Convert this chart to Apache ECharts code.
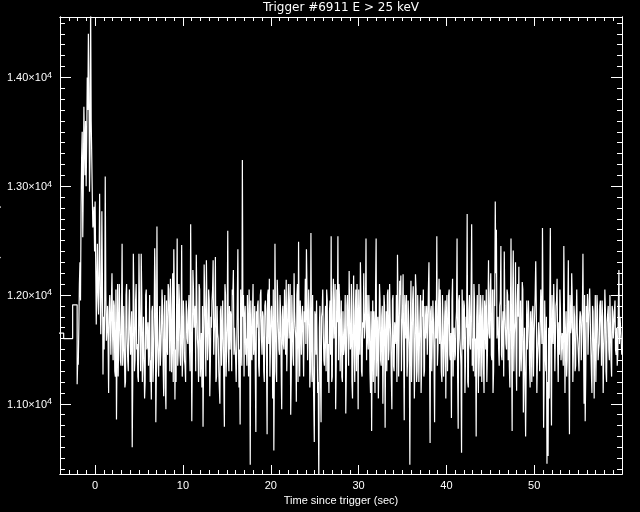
<!DOCTYPE html>
<html><head><meta charset="utf-8">
<script src="https://cdn.jsdelivr.net/npm/echarts@6/dist/echarts.min.js"></script>
<style>html,body{margin:0;padding:0;background:#000}#c{width:640px;height:512px}</style>
</head><body><div id="c"></div>
<script>
const chartTitle = 'Trigger #6911 E > 25 keV';
const xTitle = 'Time since trigger (sec)';
const yTitle = 'Rate (counts s\u207B\u00B9)';

// pre-trigger coarse bins (1.024 s)
const coarseStart = [-4.608, -3.584, -2.560];
const coarseRate = [11650, 11600, 11910];

// fine bins (0.064 s): even bins in rateEven, odd bins in rateOdd
const fineStart = -2.048;
const fineWidth = 0.064;
const rateEven = [
11180,11360,12100,11950,13270,12530,13730,13100,
13000,14000,14400,12950,14700,13270,12620,12810,
12860,11730,12470,11820,12930,11640,12770,11270,
11500,13090,11580,11900,11100,12000,11450,12200,
11400,11900,11250,10855,12100,11600,11800,11350,
12470,11500,11900,11200,12100,11400,11800,11650,
11700,10600,12380,11300,11950,11500,11250,12380,
11600,12380,11200,11800,11050,12000,11500,11750,
11500,11200,11040,11900,11400,12430,10830,12630,
11400,11650,11350,11700,11900,11070,12000,10950,
11550,12100,11800,12150,11290,12200,12420,11040,
11200,12520,11500,11950,11350,12460,11450,11800,
11350,11950,11600,11850,11500,12650,10840,12230,
11700,11900,12370,11600,11200,12050,11400,11150,
10790,12280,11700,12320,11400,12050,11070,11800,
11950,12320,11650,12350,11250,11650,11300,11000,
11900,11350,11600,10790,12000,11500,12590,11300,
11500,11800,12050,12230,11700,11400,11550,12420,
11150,10810,11600,13240,12000,11800,11450,11350,
11700,12050,10440,11500,11850,11450,11900,10740,
11700,11950,11250,12000,11600,11850,11300,11900,
11850,10720,12050,12150,11500,11900,11050,10570,
12470,11300,12140,11700,11450,11850,10950,11900,
11500,11750,12140,11300,12100,11600,10900,12000,
11450,12200,11700,11020,12100,12490,11250,11700,
11800,11600,11850,12150,12420,11400,12050,11150,
12570,11200,11350,10650,11800,11950,11100,10250,
11900,10830,11850,11650,11350,11900,12050,11200,
11100,11950,12540,11250,12150,11800,10950,12050,
12540,12100,11300,11950,11200,11450,11700,10910,
11900,12000,12220,11500,12100,11050,12180,11200,
12050,12100,10950,11600,12300,11300,11750,12200,
11700,12520,12000,11500,11800,11100,10750,11950,
11850,11100,12520,11650,11050,12100,11400,11800,
11000,12000,10780,11850,12000,11400,12100,11600,
10950,12000,11300,11650,12000,12370,11250,12130,
12180,11650,12190,10850,11850,12000,11400,11700,
10440,12130,11500,12080,11050,12190,11200,12000,
11200,11800,11100,11950,12050,11300,11600,11900,
11700,12300,10640,11900,11300,11750,10830,11950,
12540,11500,12150,12050,11300,12000,11250,11800,
11050,12000,11600,12050,11400,10870,12150,11650,
11400,11750,12520,10770,12000,11500,10550,12050,
11950,11100,11800,12745,11150,12000,11500,12650,
11600,12100,11250,10700,12000,11100,11600,12000,
11200,12000,11100,11850,12050,11450,12320,11600,
12200,11400,11100,12050,12860,12600,11700,11500,
11900,12450,11400,11850,12400,11700,11500,12000,
11950,11150,12520,10750,12410,11650,12300,11120,
12100,12260,11500,11300,12120,10920,11700,10700,
11950,11500,11750,11150,11700,11850,11250,11600,
12310,11100,11400,11550,11750,12050,12615,10780,
11950,11300,10450,10520,11050,12615,10800,11650,
12100,11300,11900,12150,11200,11450,11850,11550,
11500,12450,11100,11850,11400,12320,10720,11650,
12200,11200,11900,11300,11800,11650,11550,11750,
11800,11650,12380,11000,10840,11900,12010,11450,
12060,11500,11100,11850,11050,12000,11600,11850,
11500,11900,11700,11950,11100,11650,11850,11200,
11750,11500,12000,11400,11900,11600,11850,11500,
11700,11450,12230,11800,11600
];
const rateOdd = [
11400,11700,12300,12800,13500,13000,13400,13600,
13400,13700,13900,13300,13600,12900,12700,12400,
12300,12100,12000,12250,12050,11950,12150,11800,
11900,12050,11700,11600,11850,11750,11950,11650,
11950,11300,12050,11500,11250,12100,11400,11850,
11350,11900,11150,12000,11600,11300,12050,11450,
11850,11250,11950,11400,12100,11550,11200,11900,
11300,12000,11450,11800,11200,12050,11550,11350,
12000,11400,11850,11200,11750,12100,11300,11600,
11250,11900,11500,12050,11350,11800,11150,11950,
11450,12050,11300,11850,11600,11200,12000,11500,
11900,11350,12100,11450,11700,11250,11950,11400,
11200,11850,11550,12000,11300,11750,11450,12050,
11800,11300,11950,11500,12100,11250,11650,11900,
11400,12000,11250,11850,11550,11950,11350,11700,
12050,11450,11800,11200,11900,11600,11300,11850,
11350,11950,11600,12100,11250,11750,11500,11900,
11850,11300,12000,11450,11700,11200,11950,11550,
11500,12050,11350,11800,11250,11900,11600,12000,
11250,11750,11950,11400,12100,11550,11300,11850,
11900,11350,11700,12050,11450,11800,11200,11950,
11400,12000,11550,11250,11850,11650,12050,11300,
11750,11200,11950,11500,12000,11350,11800,11550,
12050,11450,11300,11900,11600,12100,11250,11750,
11350,11850,11600,12000,11200,11700,11950,11450,
11900,11250,11750,11550,12050,11400,11850,11300,
11600,12000,11350,11850,11450,11950,11200,11700,
11250,11800,12050,11400,11700,11300,11950,11550,
11850,11450,11200,11950,11600,12100,11350,11750,
11400,11950,11650,11250,11850,11500,12000,11300,
12000,11350,11800,11550,11200,11900,11450,11850,
11300,11750,12050,11450,11950,11250,11700,11600,
11850,11400,11600,12000,11300,11850,11550,11200,
11700,12050,11250,11800,11500,11950,11350,11900,
11450,11900,11600,11300,12050,11500,11800,11250,
11950,11350,11750,11550,11200,11900,11650,12000,
11300,11850,11450,12000,11600,11250,11950,11500,
11800,11200,11950,11650,11400,12050,11300,11750,
11550,12000,11350,11800,11250,11900,11600,11450,
12050,11500,11850,11300,11950,11400,11750,11600,
11350,11900,11550,12050,11200,11800,11450,11950,
11800,11300,12000,11450,11650,11950,11250,11700,
11450,11850,11250,11950,11600,11350,12050,11500,
11900,11400,11700,11200,11850,11550,12000,11350,
11300,11950,11600,11800,11450,12100,11250,11850,
11750,11350,11950,11500,11200,11850,11650,12000,
11450,12050,11300,11900,12200,11600,11800,11350,
11950,11450,11750,11250,11900,11550,12050,11400,
11350,11850,11600,12000,11300,11750,11450,11900,
11800,11250,11950,11500,12050,11400,11700,11300,
11500,11950,11350,11850,11200,11900,11600,12000,
11900,11400,11750,11300,12050,11550,11850,11250,
11450,11800,11200,11700,11950,11350,12000,11550,
11850,11300,11950,11500,11750,12050,11400,11650,
11350,11900,11600,11250,11850,11450,12000,11700,
11950,11450,11800,11350,12050,11550,11300,11850,
11400,11850,11550,12000,11250,11750,11450,11950,
11800,11300,11900,11500,11650,11200,12000,11400,
11550,11950,11350,11800,11450,12050,11300,11750,
11900,11400,11700,11250,11850,11600,11950,11450,
11350,11900,11550,11800,11450
];

const xRange = [-4, 60];
const yRange = [10355, 14555];
const xMajorTicks = [0, 10, 20, 30, 40, 50];
const xTickLabels = ['0', '10', '20', '30', '40', '50'];
const yMajorTicks = [11000, 12000, 13000, 14000];
const yTickLabels = ['1.10', '1.20', '1.30', '1.40'];
const yTickExp = '4';
const xMinorTicks = [];
for (let t = -3; t <= 59; t++) xMinorTicks.push(t);
const yMinorTicks = [];
for (let v = 10400; v <= 14500; v += 100) yMinorTicks.push(v);

const pts = [];
coarseStart.forEach((t, i) => pts.push([t, coarseRate[i]]));
let nBins = 0;
rateEven.forEach((v, i) => {
  pts.push([+(fineStart + (2 * i) * fineWidth).toFixed(3), v]);
  pts.push([+(fineStart + (2 * i + 1) * fineWidth).toFixed(3), rateOdd[i]]);
  nBins = 2 * i + 2;
});
pts.push([+(fineStart + nBins * fineWidth).toFixed(3), rateOdd[rateOdd.length - 1]]);

const FONT = 'Liberation Sans';
const WHITE = '#ffffff';

function xAxisDef(position, ticks, len, labels) {
  const a = {
    type: 'value', position: position, min: xRange[0], max: xRange[1],
    axisLine: { show: true, onZero: false, lineStyle: { color: WHITE, width: 1 } },
    axisTick: { show: true, inside: true, length: len, customValues: ticks, lineStyle: { color: WHITE, width: 1 } },
    splitLine: { show: false },
    axisLabel: { show: false }
  };
  if (labels) {
    a.axisLabel = {
      show: true, customValues: xMajorTicks, color: WHITE, fontFamily: FONT, fontSize: 11, margin: 6,
      formatter: v => xTickLabels[xMajorTicks.indexOf(v)]
    };
    a.name = xTitle;
    a.nameLocation = 'middle';
    a.nameGap = 17;
    a.nameTextStyle = { color: WHITE, fontFamily: FONT, fontSize: 11 };
  }
  return a;
}
function yAxisDef(position, ticks, len, labels) {
  const a = {
    type: 'value', position: position, min: yRange[0], max: yRange[1],
    axisLine: { show: true, onZero: false, lineStyle: { color: WHITE, width: 1 } },
    axisTick: { show: true, inside: true, length: len, customValues: ticks, lineStyle: { color: WHITE, width: 1 } },
    splitLine: { show: false },
    axisLabel: { show: false }
  };
  if (labels) {
    a.axisLabel = {
      show: true, customValues: yMajorTicks, color: WHITE, margin: 8,
      formatter: v => '{m|' + yTickLabels[yMajorTicks.indexOf(v)] + '\u00D710}{s|' + yTickExp + '}',
      rich: {
        m: { color: WHITE, fontFamily: FONT, fontSize: 11, lineHeight: 13, verticalAlign: 'bottom' },
        s: { color: WHITE, fontFamily: FONT, fontSize: 9, lineHeight: 13, verticalAlign: 'top' }
      }
    };
    a.name = yTitle;
    a.nameLocation = 'middle';
    a.nameGap = 59;
    a.nameRotate = 90;
    a.nameMoveOverlap = false;
    a.nameTextStyle = { color: WHITE, fontFamily: FONT, fontSize: 11 };
  }
  return a;
}

const chart = echarts.init(document.getElementById('c'), null, { renderer: 'canvas' });
chart.setOption({
  backgroundColor: '#000000',
  animation: false,
  title: {
    text: chartTitle, left: 341, top: 2, textAlign: 'center', padding: 0,
    textStyle: { color: WHITE, fontFamily: 'DejaVu Sans', fontSize: 12, fontWeight: 'normal' }
  },
  grid: { left: 60, right: 18, top: 17, bottom: 38, containLabel: false, outerBoundsMode: 'none' },
  xAxis: [
    xAxisDef('bottom', xMajorTicks, 9, true),
    xAxisDef('bottom', xMinorTicks, 4, false),
    xAxisDef('top', xMajorTicks, 9, false),
    xAxisDef('top', xMinorTicks, 4, false)
  ],
  yAxis: [
    yAxisDef('left', yMajorTicks, 11, true),
    yAxisDef('left', yMinorTicks, 5, false),
    yAxisDef('right', yMajorTicks, 11, false),
    yAxisDef('right', yMinorTicks, 5, false)
  ],
  series: [{
    type: 'line', step: 'end', data: pts, xAxisIndex: 0, yAxisIndex: 0,
    showSymbol: false, symbol: 'none', clip: true, sampling: null,
    lineStyle: { color: WHITE, width: 1.2 }
  }]
});
</script>
</body></html>
